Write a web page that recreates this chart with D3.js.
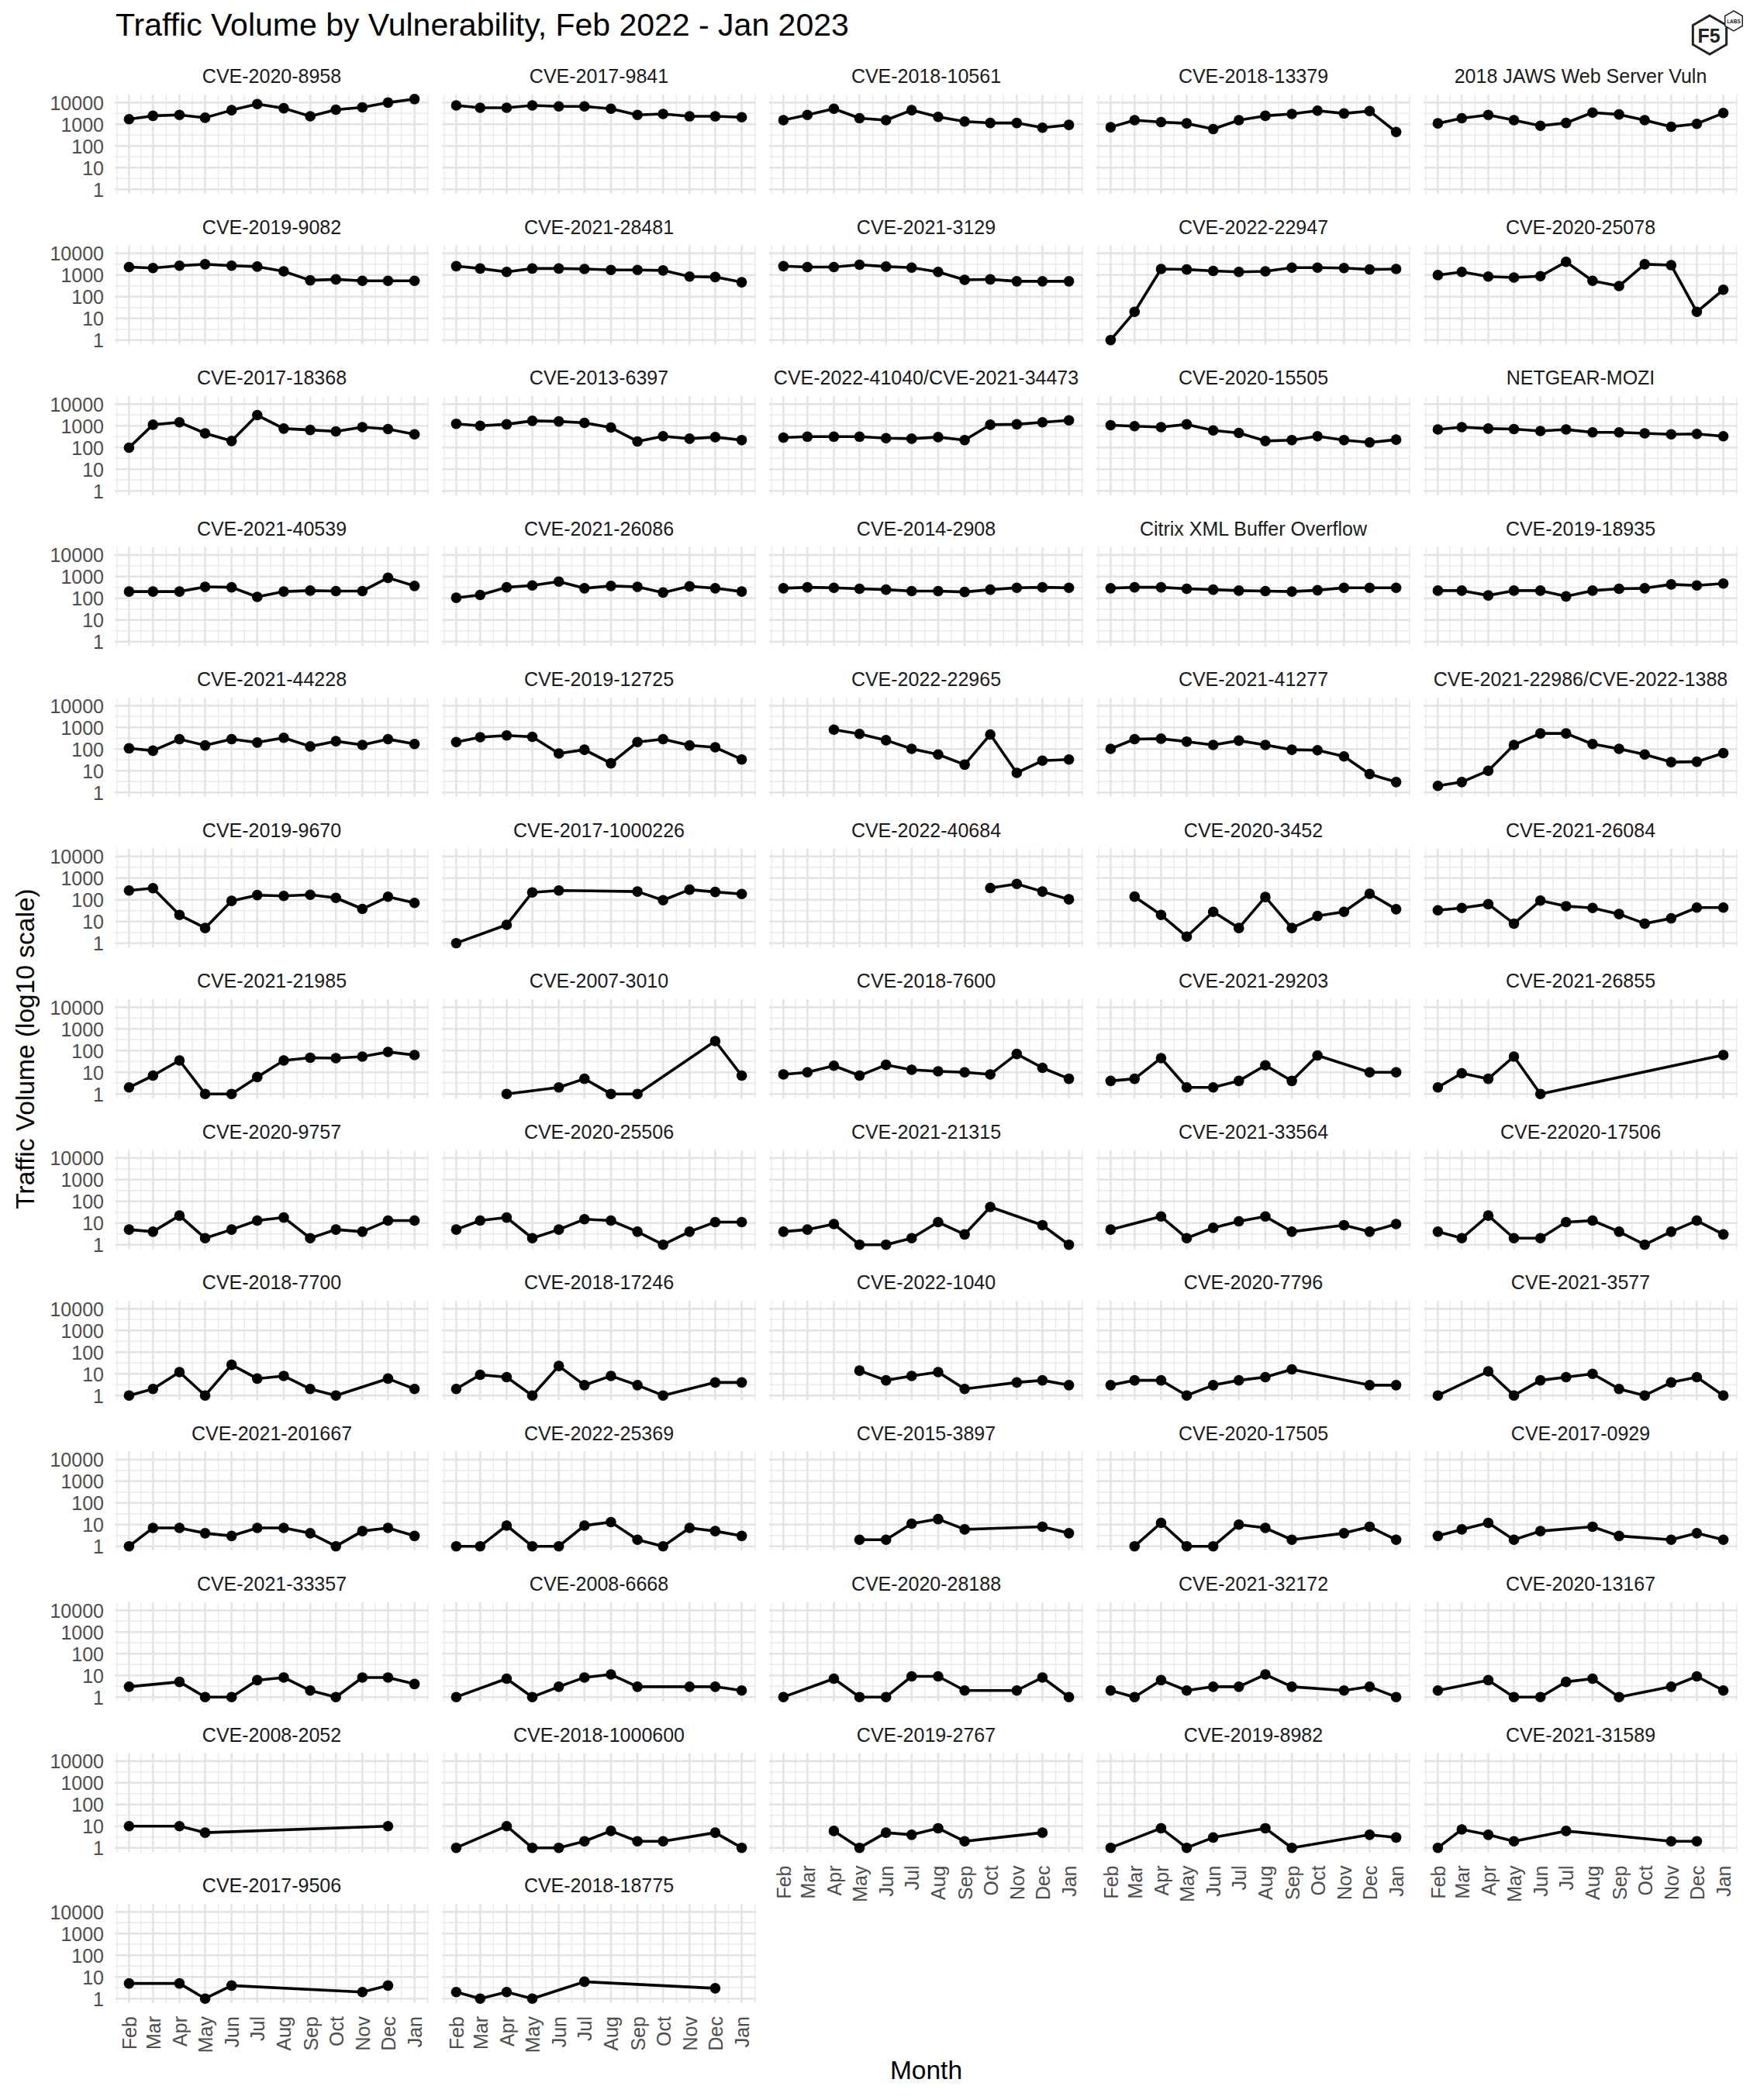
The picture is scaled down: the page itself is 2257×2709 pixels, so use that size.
<!DOCTYPE html>
<html><head><meta charset="utf-8">
<script src="https://cdn.jsdelivr.net/npm/d3@7"></script>
<style>body{margin:0;background:#fff}svg{display:block}</style>
</head><body>
<svg id="chart" width="2257" height="2709"></svg>
<script>
// ---------------- DATA ----------------
const months = ["Feb","Mar","Apr","May","Jun","Jul","Aug","Sep","Oct","Nov","Dec","Jan"];
const monthStarts = ["2022-02-01","2022-03-01","2022-04-01","2022-05-01","2022-06-01","2022-07-01",
  "2022-08-01","2022-09-01","2022-10-01","2022-11-01","2022-12-01","2023-01-01"];
const yTickValues = [1, 10, 100, 1000, 10000];
const yTickLabels = ["1", "10", "100", "1000", "10000"];

const panelNames = [
  "CVE-2020-8958","CVE-2017-9841","CVE-2018-10561","CVE-2018-13379","2018 JAWS Web Server Vuln",
  "CVE-2019-9082","CVE-2021-28481","CVE-2021-3129","CVE-2022-22947","CVE-2020-25078",
  "CVE-2017-18368","CVE-2013-6397","CVE-2022-41040/CVE-2021-34473","CVE-2020-15505","NETGEAR-MOZI",
  "CVE-2021-40539","CVE-2021-26086","CVE-2014-2908","Citrix XML Buffer Overflow","CVE-2019-18935",
  "CVE-2021-44228","CVE-2019-12725","CVE-2022-22965","CVE-2021-41277","CVE-2021-22986/CVE-2022-1388",
  "CVE-2019-9670","CVE-2017-1000226","CVE-2022-40684","CVE-2020-3452","CVE-2021-26084",
  "CVE-2021-21985","CVE-2007-3010","CVE-2018-7600","CVE-2021-29203","CVE-2021-26855",
  "CVE-2020-9757","CVE-2020-25506","CVE-2021-21315","CVE-2021-33564","CVE-22020-17506",
  "CVE-2018-7700","CVE-2018-17246","CVE-2022-1040","CVE-2020-7796","CVE-2021-3577",
  "CVE-2021-201667","CVE-2022-25369","CVE-2015-3897","CVE-2020-17505","CVE-2017-0929",
  "CVE-2021-33357","CVE-2008-6668","CVE-2020-28188","CVE-2021-32172","CVE-2020-13167",
  "CVE-2008-2052","CVE-2018-1000600","CVE-2019-2767","CVE-2019-8982","CVE-2021-31589",
  "CVE-2017-9506","CVE-2018-18775"
];

const _ = null;
const panelValues = [
  [1720,2450,2700,2000,4470,8560,5480,2330,4700,6050,10000,14500],
  [7400,5750,5750,7400,6700,6700,5200,2700,3000,2320,2320,2100],
  [1550,2700,5200,1900,1550,4470,2200,1340,1150,1150,690,935],
  [730,1550,1260,1100,600,1550,2450,3000,4250,3150,4050,440],
  [1100,1900,2700,1550,850,1150,3470,2830,1550,770,1050,3300],

  [2330,2100,2700,3150,2700,2450,1480,570,630,540,540,540],
  [2570,2000,1400,2000,2000,1900,1720,1720,1630,850,810,465],
  [2570,2330,2330,3000,2450,2200,1400,600,630,515,515,515],
  [1,20,1900,1800,1550,1400,1480,2200,2200,2100,1800,1900],
  [990,1400,850,770,890,4050,540,310,3150,2850,20,210],

  [98,1120,1450,450,200,3100,745,645,550,870,710,405],
  [1240,1000,1170,1700,1600,1370,830,190,330,255,300,220],
  [285,315,315,315,270,255,300,220,1120,1170,1450,1780],
  [1070,960,870,1170,610,470,200,220,330,220,170,230],
  [675,870,745,710,575,675,500,500,450,405,425,330],

  [204,204,204,336,320,116,204,225,215,215,880,370],
  [105,142,320,390,590,290,370,336,183,355,290,204],
  [290,320,305,275,250,215,215,195,250,305,320,305],
  [290,320,320,275,250,225,215,204,235,305,305,305],
  [225,225,135,225,225,122,225,275,290,435,390,480],

  [108,84,285,147,285,200,330,132,230,155,285,170],
  [210,350,425,365,62,93,22,210,285,147,120,33],
  [_,_,785,500,255,102,56,19,470,8,29,33],
  [102,285,300,220,155,245,155,93,88,46,7,3],
  [2,3,10,155,525,525,170,102,56,25,26,65],

  [270,345,20,5,89,165,151,170,123,38,139,72],
  [1,_,7,220,270,_,_,240,96,295,230,185],
  [_,_,_,_,_,_,_,_,350,540,240,105],
  [_,140,20,2,28,5,135,5,18,28,190,37],
  [33,42,63,8,92,51,42,22,8,14,44,44],

  [2,7,35,1,1,6,35,47,45,53,87,62],
  [_,_,1,_,2,5,1,1,_,_,275,7],
  [8,10,20,7,22,13,11,10,8,70,16,5],
  [4,5,45,2,2,4,21,4,60,_,10,10],
  [2,9,5,53,1,_,_,_,_,_,_,62],

  [5,4,22,2,5,13,18,2,5,4,13,13],
  [5,13,18,2,5,15,13,4,1,4,11,11],
  [4,5,9,1,1,2,11,3,55,_,8,1],
  [5,_,20,2,6,12,20,4,_,8,4,9],
  [4,2,22,2,2,11,13,4,1,4,13,3],

  [1,2,12,1,26,6,8,2,1,_,6,2],
  [2,9,7,1,23,3,8,3,1,_,4,4],
  [_,_,_,14,5,8,12,2,_,4,5,3],
  [3,5,5,1,3,5,7,16,_,_,3,3],
  [1,_,13,1,5,7,10,2,1,4,7,1],

  [1,7,7,4,3,7,7,4,1,5,7,3],
  [1,1,9,1,1,9,13,2,1,7,5,3],
  [_,_,_,2,2,11,18,6,_,_,8,4],
  [_,1,12,1,1,10,7,2,_,4,8,2],
  [3,6,12,2,5,_,8,3,_,2,4,2],

  [3,_,5,1,1,6,8,2,1,8,8,4],
  [1,_,7,1,3,8,11,3,_,3,3,2],
  [1,_,7,1,1,9,9,2,_,2,8,1],
  [2,1,6,2,3,3,11,3,_,2,3,1],
  [2,_,6,1,1,5,7,1,_,3,9,2],

  [10,_,10,5,_,_,_,_,_,_,10,_],
  [1,_,10,1,1,2,6,2,2,_,5,1],
  [_,_,6,1,5,4,8,2,_,_,5,_],
  [1,_,8,1,3,_,8,1,_,_,4,3],
  [1,7,4,2,_,6,_,_,_,2,2,_],

  [5,_,5,1,4,_,_,_,_,2,4,_],
  [2,1,2,1,_,6,_,_,_,_,3,_]
];

// ---------------- LAYOUT ----------------
const W = 2257, H = 2709;
const nCols = 5;
const panelLeft0 = 148, colStep = 422, panelW = 405;
const panelTop0 = 122, rowStep = 194.5, panelH = 128;
const FONT = "'Liberation Sans', Arial, Helvetica, sans-serif";
const nPanels = panelNames.length;
const nRows = Math.ceil(nPanels / nCols);

const svg = d3.select("#chart");
svg.append("rect").attr("width", W).attr("height", H).attr("fill", "#fff");

// x scale (date, 5% expansion like ggplot)
const dates = monthStarts.map(s => new Date(s + "T00:00:00Z"));
const d0 = dates[0], d1 = dates[dates.length - 1];
const padMs = 0.05 * (d1 - d0);
const x = d3.scaleUtc()
  .domain([new Date(+d0 - padMs), new Date(+d1 + padMs)])
  .range([0, panelW]);

// y scale (log10, 5% expansion in log space)
const allVals = panelValues.flat().filter(v => v != null);
const lMin = Math.log10(d3.min(allVals)), lMax = Math.log10(d3.max(allVals));
const lR = lMax - lMin;
const y = d3.scaleLog()
  .domain([Math.pow(10, lMin - 0.05 * lR), Math.pow(10, lMax + 0.05 * lR)])
  .range([panelH, 0]);

// minor breaks
const xMajors = dates.map(d => +d);
const xExt = [xMajors[0] - (xMajors[1] - xMajors[0]), ...xMajors,
  xMajors[xMajors.length - 1] + (xMajors[xMajors.length - 1] - xMajors[xMajors.length - 2])];
const xDom = x.domain().map(d => +d);
const xMinors = d3.pairs(xExt).map(([a, b]) => (a + b) / 2).filter(v => v >= xDom[0] && v <= xDom[1]);
const yDomL = y.domain().map(Math.log10);
const yMinors = d3.range(-1, 6).map(k => Math.pow(10, k + 0.5))
  .filter(v => Math.log10(v) >= yDomL[0] && Math.log10(v) <= yDomL[1]);

const gridMajor = "#e4e4e4", gridMinor = "#eaeaea";

// ---------------- PANELS ----------------
panelNames.forEach((name, i) => {
  const row = Math.floor(i / nCols), col = i % nCols;
  const px = panelLeft0 + col * colStep, py = panelTop0 + row * rowStep;
  const g = svg.append("g").attr("transform", `translate(${px},${py})`);

  // minor grid
  g.selectAll(".vminor").data(xMinors).enter().append("line")
    .attr("x1", d => x(new Date(d))).attr("x2", d => x(new Date(d)))
    .attr("y1", 0).attr("y2", panelH)
    .attr("stroke", gridMinor).attr("stroke-width", 1.4);
  g.selectAll(".hminor").data(yMinors).enter().append("line")
    .attr("x1", 0).attr("x2", panelW)
    .attr("y1", d => y(d)).attr("y2", d => y(d))
    .attr("stroke", gridMinor).attr("stroke-width", 1.4);
  // major grid
  g.selectAll(".vmajor").data(dates).enter().append("line")
    .attr("x1", d => x(d)).attr("x2", d => x(d))
    .attr("y1", 0).attr("y2", panelH)
    .attr("stroke", gridMajor).attr("stroke-width", 2.6);
  g.selectAll(".hmajor").data(yTickValues).enter().append("line")
    .attr("x1", 0).attr("x2", panelW)
    .attr("y1", d => y(d)).attr("y2", d => y(d))
    .attr("stroke", gridMajor).attr("stroke-width", 2.6);

  // strip label
  g.append("text").attr("x", panelW / 2).attr("y", -15)
    .attr("text-anchor", "middle")
    .attr("font-family", FONT).attr("font-size", 25).attr("fill", "#1a1a1a")
    .text(name);

  // data
  const pts = panelValues[i].map((v, j) => ({ d: dates[j], v })).filter(p => p.v != null);
  const line = d3.line().x(p => x(p.d)).y(p => y(p.v));
  g.append("path").datum(pts).attr("d", line)
    .attr("fill", "none").attr("stroke", "#000").attr("stroke-width", 3.6)
    .attr("stroke-linejoin", "round");
  g.selectAll(".pt").data(pts).enter().append("circle")
    .attr("cx", p => x(p.d)).attr("cy", p => y(p.v)).attr("r", 6.8)
    .attr("fill", "#000");

  // y axis on first column
  if (col === 0) {
    const ax = g.append("g").call(
      d3.axisLeft(y).tickValues(yTickValues)
        .tickFormat((d, k) => yTickLabels[k]).tickSize(0).tickPadding(14));
    ax.select(".domain").remove();
    ax.selectAll("text").attr("font-family", FONT).attr("font-size", 25)
      .attr("fill", "#4d4d4d").attr("dy", "0.36em");
  }
  // x axis on bottom panel of each column
  const isBottom = (i + nCols >= nPanels);
  if (isBottom) {
    const ax = g.append("g").attr("transform", `translate(0,${panelH})`).call(
      d3.axisBottom(x).tickValues(dates)
        .tickFormat((d, k) => months[k]).tickSize(0));
    ax.select(".domain").remove();
    ax.selectAll("text")
      .attr("font-family", FONT).attr("font-size", 25).attr("fill", "#4d4d4d")
      .attr("transform", "rotate(-90)")
      .attr("text-anchor", "end")
      .attr("x", -17).attr("y", 0).attr("dy", "0.36em");
  }
});

// ---------------- TITLES ----------------
svg.append("text").attr("x", 149).attr("y", 46)
  .attr("font-family", FONT).attr("font-size", 41).attr("fill", "#000")
  .text("Traffic Volume by Vulnerability, Feb 2022 - Jan 2023");

const panelsBottom = panelTop0 + (nRows - 1) * rowStep + panelH;
svg.append("text")
  .attr("transform", `translate(44,${(panelTop0 + panelsBottom) / 2}) rotate(-90)`)
  .attr("text-anchor", "middle")
  .attr("font-family", FONT).attr("font-size", 33.5).attr("fill", "#000")
  .text("Traffic Volume (log10 scale)");

const panelsRight = panelLeft0 + (nCols - 1) * colStep + panelW;
svg.append("text").attr("x", (panelLeft0 + panelsRight) / 2).attr("y", 2682)
  .attr("text-anchor", "middle")
  .attr("font-family", FONT).attr("font-size", 33.5).attr("fill", "#000")
  .text("Month");

// ---------------- LOGO ----------------
function hexPath(cx, cy, r) {
  const p = d3.range(6).map(k => {
    const a = (Math.PI / 180) * (-90 + 60 * k);
    return [cx + r * Math.cos(a), cy + r * Math.sin(a)];
  });
  return "M" + p.map(q => q.join(",")).join("L") + "Z";
}
const logo = svg.append("g");
logo.append("path").attr("d", hexPath(2205, 45, 25))
  .attr("fill", "none").attr("stroke", "#222").attr("stroke-width", 3);
logo.append("path").attr("d", hexPath(2236, 27, 13))
  .attr("fill", "#fff").attr("stroke", "#222").attr("stroke-width", 1.5);
logo.append("text").attr("x", 2204).attr("y", 55).attr("text-anchor", "middle")
  .attr("font-family", FONT).attr("font-size", 25).attr("font-weight", "bold").attr("fill", "#222")
  .text("F5");
logo.append("text").attr("x", 2236).attr("y", 29.5).attr("text-anchor", "middle")
  .attr("font-family", FONT).attr("font-size", 6.5).attr("font-weight", "bold").attr("fill", "#222")
  .text("LABS");
</script>
</body></html>
